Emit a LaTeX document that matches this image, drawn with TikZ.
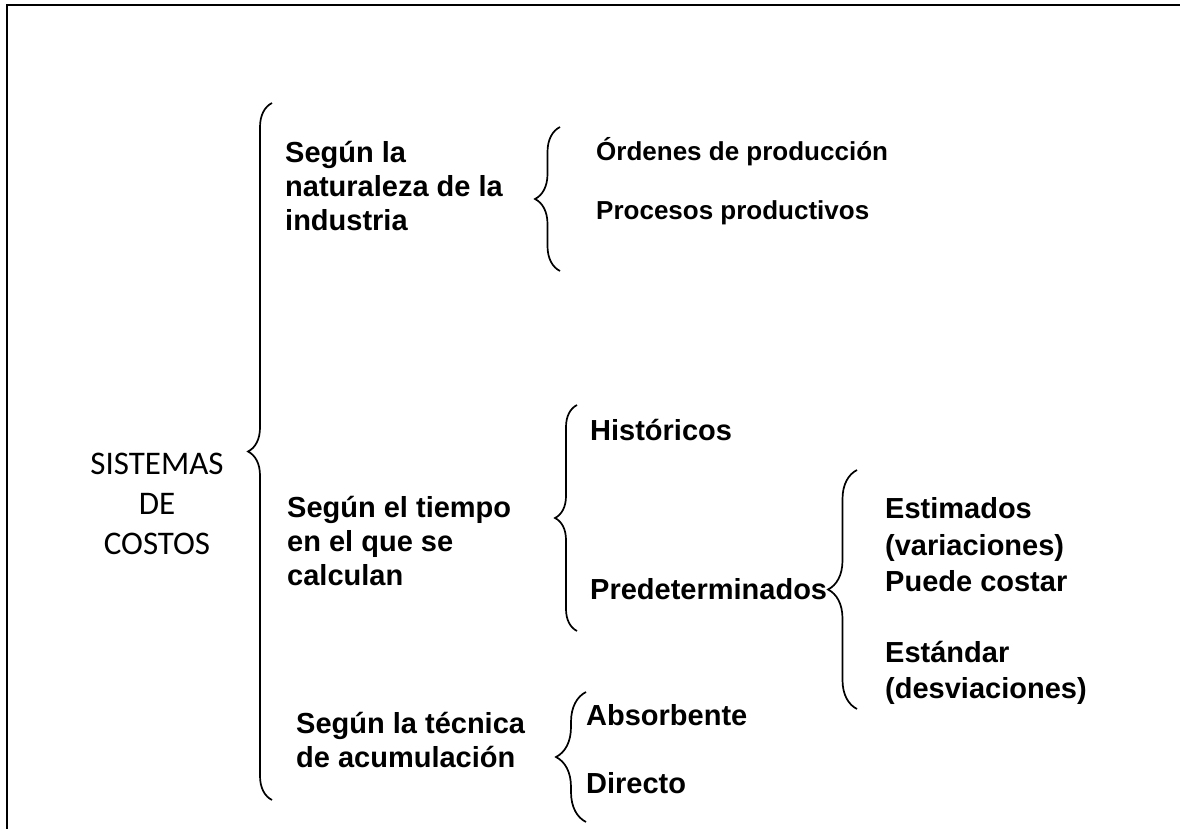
\documentclass[tikz,border=0pt]{standalone}
\usepackage{fontspec}
\setmainfont{Liberation Sans}
\newfontfamily\calib{Carlito}
\usepackage{tikz}
\usetikzlibrary{decorations.pathreplacing}
\tikzset{
  frame/.style={draw=black, line width=2pt},
  curl/.style={draw=black, line width=1.7pt, decorate, decoration={brace, amplitude=#1}},
  head/.style={font=\calib\fontsize{33}{40}\selectfont, align=center, inner sep=0pt},
  lab/.style={font=\bfseries\fontsize{29}{34}\selectfont, align=left, inner sep=0pt, anchor=west},
  labs/.style={font=\bfseries\fontsize{26}{34}\selectfont, align=left, inner sep=0pt, anchor=west},
  labr/.style={font=\bfseries\fontsize{29}{36.5}\selectfont, align=left, inner sep=0pt, anchor=west},
}
\begin{document}
\begin{tikzpicture}[x=1pt,y=-1pt]
  \useasboundingbox (0,0) rectangle (1180,829);
  % open frame: top and left only
  \draw[frame] (7,829) -- (7,5) -- (1180,5);

  % root
  \node[head] (root) at (157,504) {SISTEMAS\\DE\\COSTOS};

  % braces
  \coordinate (b1t) at (272,103);  \coordinate (b1b) at (272,800);
  \coordinate (b2t) at (560,127);  \coordinate (b2b) at (560,271);
  \coordinate (b3t) at (577,405);  \coordinate (b3b) at (577,631);
  \coordinate (b4t) at (857,470);  \coordinate (b4b) at (857,709);
  \coordinate (b5t) at (586,692);  \coordinate (b5b) at (586,822);
  \draw[curl=24pt] (b1b) -- (b1t);
  \draw[curl=25pt] (b2b) -- (b2t);
  \draw[curl=22pt] (b3b) -- (b3t);
  \draw[curl=29pt] (b4b) -- (b4t);
  \draw[curl=30pt] (b5b) -- (b5t);

  % first level
  \node[lab] (nat)  at (285,186) {Según la\\naturaleza de la\\industria};
  \node[lab] (tiem) at (287,541) {Según el tiempo\\en el que se\\calculan};
  \node[lab] (tec)  at (296,740) {Según la técnica\\de acumulación};

  % second level
  \node[labs] (ord)  at (596,152) {Órdenes de producción};
  \node[labs] (proc) at (596,213) {Procesos productivos};
  \node[lab]  (hist) at (590,430) {Históricos};
  \node[lab]  (pred) at (590,589) {Predeterminados};
  \node[lab]  (abs)  at (586,715) {Absorbente};
  \node[lab]  (dir)  at (586,783) {Directo};

  % third level
  \node[labr] (estim) at (885,545) {Estimados\\(variaciones)\\Puede costar};
  \node[labr] (estd)  at (885,673) {Estándar\\(desviaciones)};
\end{tikzpicture}
\end{document}
